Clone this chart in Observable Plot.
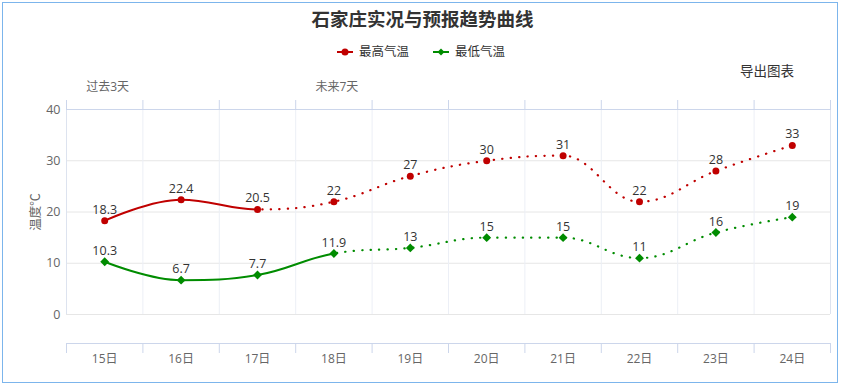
<!DOCTYPE html>
<html><head><meta charset="utf-8">
<script src="https://cdn.jsdelivr.net/npm/d3@7"></script>
<script src="https://cdn.jsdelivr.net/npm/@observablehq/plot@0.6"></script>
<style>
body{margin:0;background:#fff;font-family:"Open Sans","Noto Sans CJK SC",sans-serif;}
#wrap{position:relative;width:845px;height:387px;overflow:hidden;}
#border{position:absolute;left:2px;top:2px;width:834px;height:379px;border:1px solid #7cb5ec;pointer-events:none;}
#title{position:absolute;left:0;width:845px;top:8px;line-height:22px;text-align:center;font-size:18.5px;font-weight:bold;color:#333;}
.leg{position:absolute;top:44px;height:16px;line-height:16px;font-size:12.5px;color:#333;display:flex;align-items:center;white-space:nowrap;}
.leg svg{margin-right:6px;}
#export{position:absolute;left:740px;top:62px;line-height:18px;font-size:13.5px;color:#333;}
#chart{position:absolute;left:0;top:0;}
</style></head>
<body>
<div id="wrap">
  <div id="chart"></div>
  <div id="title"></div>
  <div id="legHigh" class="leg" style="left:337px"></div>
  <div id="legLow" class="leg" style="left:433px"></div>
  <div id="export"></div>
  <div id="border"></div>
</div>
<script>
const chartTitle = "石家庄实况与预报趋势曲线";
const exportText = "导出图表";
const yLabel = "温度℃";
const days = ["15日","16日","17日","18日","19日","20日","21日","22日","23日","24日"];
const high = [18.3, 22.4, 20.5, 22, 27, 30, 31, 22, 28, 33];
const low = [10.3, 6.7, 7.7, 11.9, 13, 15, 15, 11, 16, 19];
const highObservedCount = 3;
const lowObservedCount = 4;
const seriesNames = ["最高气温", "最低气温"];
const seriesColors = ["#c00000", "#008c00"];
const yTicks = [0, 10, 20, 30, 40];
const periodDays = ["15日", "18日"];
const periodNames = ["过去3天", "未来7天"];

document.getElementById("title").textContent = chartTitle;
document.getElementById("export").textContent = exportText;
document.getElementById("legHigh").innerHTML =
  `<svg width="16" height="10"><line x1="0" x2="16" y1="5" y2="5" stroke="${seriesColors[0]}" stroke-width="2"/><circle cx="8" cy="5" r="3.5" fill="${seriesColors[0]}"/></svg><span>${seriesNames[0]}</span>`;
document.getElementById("legLow").innerHTML =
  `<svg width="16" height="10"><line x1="0" x2="16" y1="5" y2="5" stroke="${seriesColors[1]}" stroke-width="2"/><path d="M8,1.5L11.5,5L8,8.5L4.5,5Z" fill="${seriesColors[1]}"/></svg><span>${seriesNames[1]}</span>`;

const idx = days.map((d, i) => i);
const boundaries = [...idx.map(i => i - 0.5), days.length - 0.5];
const highData = days.map((d, i) => ({i, day: d, v: high[i]}));
const lowData = days.map((d, i) => ({i, day: d, v: low[i]}));

// Highcharts-like spline curve
function HCSpline(context) { this._context = context; }
HCSpline.prototype = {
  areaStart() { this._line = 0; },
  areaEnd() { this._line = NaN; },
  lineStart() { this._pts = []; },
  point(x, y) { this._pts.push([+x, +y]); },
  lineEnd() {
    const p = this._pts, c = this._context, n = p.length;
    if (!n) return;
    const s = 1.5, den = s + 1;
    c.moveTo(p[0][0], p[0][1]);
    let prevR = null;
    for (let i = 1; i < n; i++) {
      const [px, py] = p[i];
      let left = null, right = null;
      if (i < n - 1) {
        const [lx, ly] = p[i - 1], [nx, ny] = p[i + 1];
        let lcx = (s * px + lx) / den, lcy = (s * py + ly) / den;
        let rcx = (s * px + nx) / den, rcy = (s * py + ny) / den;
        let corr = 0;
        if (rcx !== lcx) corr = ((rcy - lcy) * (rcx - px)) / (rcx - lcx) + py - rcy;
        lcy += corr; rcy += corr;
        if (lcy > ly && lcy > py) { lcy = Math.max(ly, py); rcy = 2 * py - lcy; }
        else if (lcy < ly && lcy < py) { lcy = Math.min(ly, py); rcy = 2 * py - lcy; }
        if (rcy > ny && rcy > py) { rcy = Math.max(ny, py); lcy = 2 * py - rcy; }
        else if (rcy < ny && rcy < py) { rcy = Math.min(ny, py); lcy = 2 * py - rcy; }
        left = [lcx, lcy]; right = [rcx, rcy];
      }
      const a = prevR || p[i - 1], b = left || p[i];
      c.bezierCurveTo(a[0], a[1], b[0], b[1], px, py);
      prevR = right;
    }
  }
};
const hcSpline = (context) => new HCSpline(context);

let clipCount = 0;
function clipBetween(fromIndex, toIndex) {
  return function(index, scales, values, dimensions, context, next) {
    const g = next(index, scales, values, dimensions, context);
    const id = `seg-clip-${++clipCount}`;
    const x0 = fromIndex == null ? 0 : scales.x(fromIndex);
    const x1 = toIndex == null ? dimensions.width : scales.x(toIndex);
    const cp = d3.create("svg:clipPath").attr("id", id);
    cp.append("rect").attr("x", x0).attr("y", 0).attr("width", x1 - x0).attr("height", dimensions.height);
    g.insertBefore(cp.node(), g.firstChild);
    g.setAttribute("clip-path", `url(#${id})`);
    return g;
  };
}

const axisColor = "#ccd6eb";
const gridColor = "#e6e6e6";
const vGridColor = "#eceff6";
const bottomOffset = 29;

function seriesMarks(data, observedCount, color, symbol) {
  const split = observedCount - 1;
  return [
    Plot.line(data, {x: "i", y: "v", stroke: color, strokeWidth: 2, curve: hcSpline, render: clipBetween(null, split)}),
    Plot.line(data, {x: "i", y: "v", stroke: color, strokeWidth: 2.2, strokeLinecap: "round", strokeDasharray: "0.3,8.2", curve: hcSpline, render: clipBetween(split, null)}),
    Plot.dot(data, {x: "i", y: "v", r: symbol === "circle" ? 3.5 : 4, symbol, fill: color, stroke: "none"}),
    Plot.text(data, {x: "i", y: "v", text: d => String(d.v), dy: -11, fill: "#333", fontSize: 12.5})
  ];
}

const chart = Plot.plot({
  width: 845, height: 387,
  marginLeft: 66, marginRight: 15, marginTop: 109, marginBottom: 73,
  x: {type: "linear", domain: [boundaries[0], boundaries[boundaries.length - 1]], label: null},
  y: {domain: [yTicks[0], yTicks[yTicks.length - 1]], label: null},
  style: {fontFamily: '"Open Sans","Noto Sans CJK SC",sans-serif', fontSize: "12px", background: "transparent", overflow: "visible"},
  marks: [
    Plot.ruleY(yTicks.slice(0, -1), {stroke: gridColor}),
    Plot.ruleX(boundaries.slice(1, -1), {stroke: vGridColor}),
    Plot.ruleX([boundaries[0], boundaries[boundaries.length - 1]], {stroke: "#dde3ef"}),
    Plot.ruleY([yTicks[yTicks.length - 1]], {stroke: axisColor}),
    // top category axis
    Plot.axisX({anchor: "top", ticks: boundaries, tickSize: 10, fill: "none", stroke: axisColor, label: null}),
    Plot.axisX({anchor: "top", ticks: periodDays.map(d => days.indexOf(d)), tickSize: 0, tickPadding: 19, dx: 3,
      tickFormat: i => periodNames[periodDays.indexOf(days[i])], fill: "#666", label: null}),
    // bottom category axis (offset)
    Plot.ruleY([yTicks[0]], {dy: bottomOffset, stroke: axisColor}),
    Plot.axisX({anchor: "bottom", ticks: boundaries, tickSize: 10, dy: bottomOffset, fill: "none", stroke: axisColor, label: null}),
    Plot.axisX({anchor: "bottom", ticks: idx, tickSize: 0, tickPadding: 11, dy: bottomOffset, tickFormat: i => days[i], fill: "#666", label: null}),
    // y axis
    Plot.axisY({ticks: yTicks, tickSize: 0, tickPadding: 6, fill: "#666", label: yLabel, labelAnchor: "center", labelArrow: "none", labelOffset: 35, fontSize: 12.5}),
    ...seriesMarks(highData, highObservedCount, seriesColors[0], "circle"),
    ...seriesMarks(lowData, lowObservedCount, seriesColors[1], "diamond2")
  ]
});
document.getElementById("chart").appendChild(chart);
</script>
</body></html>
